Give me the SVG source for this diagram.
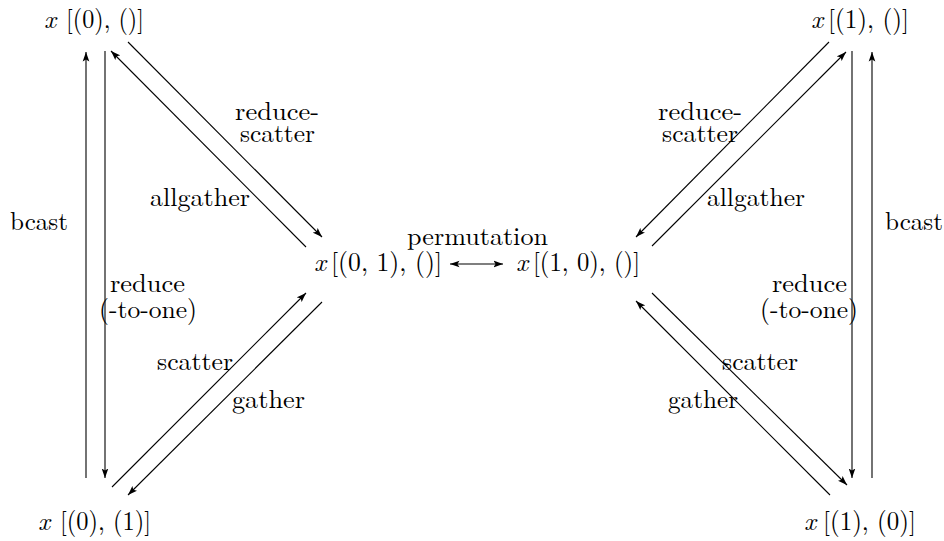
<svg xmlns="http://www.w3.org/2000/svg" width="944" height="541" viewBox="0 0 944 541">
<style>
  text { font-family: "Latin Modern Roman", "CMU Serif", "Liberation Serif", serif; fill: #000; font-size: 26px; }
  .it { font-style: italic; }
  .c line { stroke: #000; stroke-width: 1.1; fill: none; }
  .a { marker-end: url(#ah); }
</style>
<defs>
  <marker id="ah" viewBox="0 0 10 8" refX="10" refY="4" markerWidth="9.5" markerHeight="7.6" orient="auto-start-reverse" markerUnits="userSpaceOnUse">
    <path d="M0,0.5 L10,4 L0,7.5 L2.2,4 z" fill="#000"/>
  </marker>
</defs>
<rect width="944" height="541" fill="#fff"/>

<g id="n_tl">
  <text x="44" y="28"><tspan class="it">x</tspan><tspan x="66" textLength="78" lengthAdjust="spacingAndGlyphs">[(0), ()]</tspan></text>
</g>
<g id="n_tr">
  <text x="811" y="28"><tspan class="it">x</tspan><tspan x="828" textLength="81" lengthAdjust="spacingAndGlyphs">[(1), ()]</tspan></text>
</g>
<g id="n_bl">
  <text x="38" y="530"><tspan class="it">x</tspan><tspan x="60" textLength="91" lengthAdjust="spacingAndGlyphs">[(0), (1)]</tspan></text>
</g>
<g id="n_br">
  <text x="804" y="530"><tspan class="it">x</tspan><tspan x="823" textLength="93" lengthAdjust="spacingAndGlyphs">[(1), (0)]</tspan></text>
</g>
<g id="n_ml">
  <text x="314" y="271"><tspan class="it">x</tspan><tspan x="331" textLength="111" lengthAdjust="spacingAndGlyphs">[(0, 1), ()]</tspan></text>
</g>
<g id="n_mr">
  <text x="516" y="271"><tspan class="it">x</tspan><tspan x="533" textLength="107" lengthAdjust="spacingAndGlyphs">[(1, 0), ()]</tspan></text>
</g>

<g id="labels">
  <text><tspan x="235" y="120" textLength="84" lengthAdjust="spacingAndGlyphs">reduce-</tspan><tspan x="240" y="142" textLength="75" lengthAdjust="spacingAndGlyphs">scatter</tspan></text>
  <text x="150" y="206" textLength="100" lengthAdjust="spacingAndGlyphs">allgather</text>
  <text x="10" y="230" textLength="58" lengthAdjust="spacingAndGlyphs">bcast</text>
  <text><tspan x="110" y="292" textLength="75" lengthAdjust="spacingAndGlyphs">reduce</tspan><tspan x="99" y="318" textLength="98" lengthAdjust="spacingAndGlyphs">(-to-one)</tspan></text>
  <text x="157" y="370" textLength="76" lengthAdjust="spacingAndGlyphs">scatter</text>
  <text x="232" y="408" textLength="73" lengthAdjust="spacingAndGlyphs">gather</text>
  <text x="407" y="245" textLength="141" lengthAdjust="spacingAndGlyphs">permutation</text>
  <text><tspan x="658" y="120" textLength="84" lengthAdjust="spacingAndGlyphs">reduce-</tspan><tspan x="662" y="142" textLength="76" lengthAdjust="spacingAndGlyphs">scatter</tspan></text>
  <text x="707" y="206" textLength="98" lengthAdjust="spacingAndGlyphs">allgather</text>
  <text x="885" y="230" textLength="58" lengthAdjust="spacingAndGlyphs">bcast</text>
  <text><tspan x="772" y="292" textLength="75" lengthAdjust="spacingAndGlyphs">reduce</tspan><tspan x="760" y="318" textLength="98" lengthAdjust="spacingAndGlyphs">(-to-one)</tspan></text>
  <text x="722" y="370" textLength="76" lengthAdjust="spacingAndGlyphs">scatter</text>
  <text x="668" y="408" textLength="70" lengthAdjust="spacingAndGlyphs">gather</text>
</g>

<g id="connectors" class="c">
  <line class="a" x1="86" y1="478" x2="86" y2="52"/>
  <line class="a" x1="105" y1="51" x2="105" y2="478"/>
  <line class="a" x1="306" y1="247" x2="111" y2="51"/>
  <line class="a" x1="128" y1="42" x2="322" y2="237"/>
  <line class="a" x1="112" y1="487" x2="306" y2="293"/>
  <line class="a" x1="322" y1="302" x2="128" y2="495"/>
  <line x1="450" y1="264" x2="503" y2="264" marker-start="url(#ah)" marker-end="url(#ah)"/>
  <line class="a" x1="852" y1="51" x2="852" y2="478"/>
  <line class="a" x1="872" y1="478" x2="872" y2="52"/>
  <line class="a" x1="829" y1="42" x2="636" y2="237"/>
  <line class="a" x1="652" y1="246" x2="846" y2="52"/>
  <line class="a" x1="830" y1="495" x2="636" y2="301"/>
  <line class="a" x1="652" y1="293" x2="847" y2="485"/>
</g>
</svg>
